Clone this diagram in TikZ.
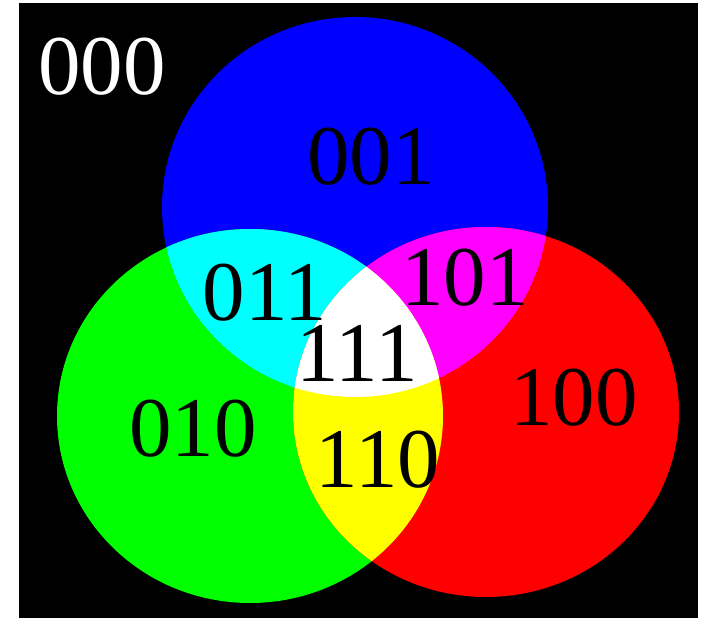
\documentclass[tikz,border=0pt]{standalone}
\usepackage{fontspec}
\setmainfont{Liberation Serif}
\definecolor{cB}{RGB}{0,0,255}
\definecolor{cG}{RGB}{0,255,0}
\definecolor{cR}{RGB}{255,0,0}
\definecolor{cC}{RGB}{0,255,255}
\definecolor{cM}{RGB}{255,0,255}
\definecolor{cY}{RGB}{255,255,0}
\definecolor{cW}{RGB}{255,255,255}
\def\bluepath{(355,207) ellipse [x radius=193pt, y radius=190pt]}
\def\greenpath{(250,416) ellipse [x radius=193pt, y radius=187pt]}
\def\redpath{(486,412) ellipse [x radius=193pt, y radius=185pt]}
\begin{document}
\begin{tikzpicture}[x=1pt,y=-1pt,
  lbl/.style={inner sep=0pt, font=\fontsize{85}{85}\selectfont, text=black}]
\useasboundingbox (0,0) rectangle (705,618);
\fill[black] (19,3) rectangle (698,618);
\fill[cB] \bluepath;
\fill[cG] \greenpath;
\fill[cR] \redpath;
\begin{scope}\clip \greenpath; \fill[cC] \bluepath;\end{scope}
\begin{scope}\clip \redpath; \fill[cM] \bluepath;\end{scope}
\begin{scope}\clip \redpath; \fill[cY] \greenpath;\end{scope}
\begin{scope}\clip \redpath; \clip \greenpath; \fill[cW] \bluepath;\end{scope}
\node[lbl, text=white] (n000) at (102,67) {000};
\node[lbl] (n001) at (371,157) {001};
\node[lbl] (n011) at (265,293) {011};
\node[lbl] (n101) at (465,278) {101};
\node[lbl] (n111) at (357,353) {111};
\node[lbl] (n110) at (378,460) {110};
\node[lbl] (n100) at (574,398) {100};
\node[lbl] (n010) at (193,429) {010};
\end{tikzpicture}
\end{document}
